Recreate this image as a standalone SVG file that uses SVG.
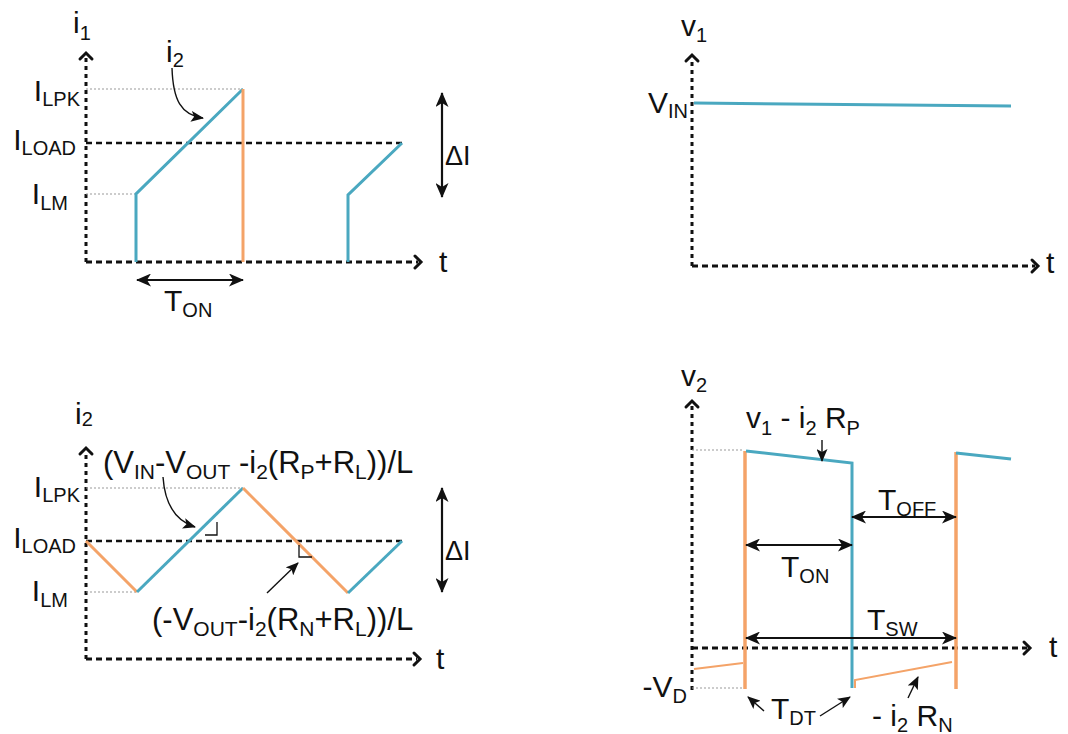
<svg xmlns="http://www.w3.org/2000/svg" width="1068" height="734" viewBox="0 0 1068 734">
<style>
text{font-family:"Liberation Sans",Arial,sans-serif;fill:#111;}
.m{font-size:30px;}
.s{font-size:20px;}
.f{font-size:31px;}
.fs{font-size:21px;}
.d{font-size:27px;}
.axv{fill:none;stroke:#111;stroke-width:3;stroke-dasharray:4 4;}
.axh{fill:none;stroke:#111;stroke-width:3;stroke-dasharray:6 4;}
.chev{fill:none;stroke:#111;stroke-width:3;stroke-linecap:round;stroke-linejoin:miter;}
.load{fill:none;stroke:#111;stroke-width:2.5;stroke-dasharray:6 4;}
.gray{fill:none;stroke:#999;stroke-width:1.2;stroke-dasharray:2 2;}
.blue{fill:none;stroke:#4AA8C0;stroke-width:3;stroke-linejoin:miter;}
.orange{fill:none;stroke:#F4A368;stroke-width:3;stroke-linejoin:miter;}
.orangeT{fill:none;stroke:#F4A368;stroke-width:2;}
.dbl{fill:none;stroke:#111;stroke-width:2.2;marker-start:url(#ah);marker-end:url(#ah);}
.ptr{fill:none;stroke:#111;stroke-width:1.4;marker-end:url(#ah2);}
.ra{fill:none;stroke:#111;stroke-width:1.3;}
</style>
<defs>
<marker id="ah" viewBox="0 0 15 13" refX="14" refY="6.5" markerWidth="15" markerHeight="13" markerUnits="userSpaceOnUse" orient="auto-start-reverse"><path d="M0,0 L15,6.5 L0,13 L4,6.5 z" fill="#111"/></marker>
<marker id="ah2" viewBox="0 0 13 11" refX="12" refY="5.5" markerWidth="13" markerHeight="11" markerUnits="userSpaceOnUse" orient="auto"><path d="M0,0 L13,5.5 L0,11 L3,5.5 z" fill="#111"/></marker>
</defs>
<rect width="1068" height="734" fill="#fff"/>

<g id="panel-i1">
<path class="axv" d="M86,262 V56"/>
<polyline class="chev" points="80,59 86,53 92,59"/>
<path class="axh" d="M86,262 H418"/>
<polyline class="chev" points="415,256 421,262 415,268"/>
<path class="gray" d="M86,89 H243"/>
<path class="gray" d="M86,194 H136"/>
<path class="load" d="M86,143 H403"/>
<polyline class="blue" points="136,262 136,194 243,89"/>
<path class="orange" d="M243,89 V262"/>
<polyline class="blue" points="348,262 348,195 402,143"/>
<text x="73" y="33"><tspan class="m">i</tspan><tspan class="s" dy="7">1</tspan></text>
<text x="166" y="62"><tspan class="m">i</tspan><tspan class="s" dy="5">2</tspan></text>
<text x="80" y="101" text-anchor="end"><tspan class="m">I</tspan><tspan class="s" dy="5">LPK</tspan></text>
<text x="76" y="150" text-anchor="end"><tspan class="m">I</tspan><tspan class="s" dy="5">LOAD</tspan></text>
<text x="68" y="204" text-anchor="end"><tspan class="m">I</tspan><tspan class="s" dy="6">LM</tspan></text>
<text x="439" y="272" class="m">t</text>
<text x="445" y="165" class="d">ΔI</text>
<text x="164" y="311"><tspan class="m">T</tspan><tspan class="s" dy="6">ON</tspan></text>
</g>

<g id="panel-v1">
<path class="axv" d="M692,266 V58"/>
<polyline class="chev" points="686,61 692,55 698,61"/>
<path class="axh" d="M692,266 H1035"/>
<polyline class="chev" points="1032,260 1038,266 1032,272"/>
<polyline class="blue" points="694,103 1011,106"/>
<text x="681" y="36"><tspan class="m">v</tspan><tspan class="s" dy="6">1</tspan></text>
<text x="688" y="113" text-anchor="end"><tspan class="m">V</tspan><tspan class="s" dy="5">IN</tspan></text>
<text x="1046" y="273" class="m">t</text>
</g>

<g id="panel-i2">
<path class="axv" d="M86,659 V451"/>
<polyline class="chev" points="80,454 86,448 92,454"/>
<path class="axh" d="M86,659 H417"/>
<polyline class="chev" points="414,653 420,659 414,665"/>
<path class="gray" d="M86,488 H243"/>
<path class="gray" d="M86,592 H137"/>
<path class="load" d="M86,541 H403"/>
<polyline class="orange" points="86,541 137,592"/>
<polyline class="blue" points="137,592 243,488"/>
<polyline class="orange" points="243,488 348,593"/>
<polyline class="blue" points="348,593 402,541"/>
<path class="ra" d="M205,535 H217 V522"/>
<path class="ra" d="M299,545 V557 H312"/>
<text x="75" y="424"><tspan class="m">i</tspan><tspan class="s" dy="2">2</tspan></text>
<text x="80" y="497" text-anchor="end"><tspan class="m">I</tspan><tspan class="s" dy="5">LPK</tspan></text>
<text x="76" y="548" text-anchor="end"><tspan class="m">I</tspan><tspan class="s" dy="5">LOAD</tspan></text>
<text x="68" y="601" text-anchor="end"><tspan class="m">I</tspan><tspan class="s" dy="6">LM</tspan></text>
<text x="436" y="669" class="m">t</text>
<text x="445" y="560" class="d">ΔI</text>
<text x="103" y="473" class="f">(V<tspan class="fs" dy="6">IN</tspan><tspan dy="-6">-V</tspan><tspan class="fs" dy="6">OUT</tspan><tspan dy="-6"> -i</tspan><tspan class="fs" dy="6">2</tspan><tspan dy="-6">(R</tspan><tspan class="fs" dy="6">P</tspan><tspan dy="-6">+R</tspan><tspan class="fs" dy="6">L</tspan><tspan dy="-6">))/L</tspan></text>
<text x="152" y="630" class="f">(-V<tspan class="fs" dy="6">OUT</tspan><tspan dy="-6">-i</tspan><tspan class="fs" dy="6">2</tspan><tspan dy="-6">(R</tspan><tspan class="fs" dy="6">N</tspan><tspan dy="-6">+R</tspan><tspan class="fs" dy="6">L</tspan><tspan dy="-6">))/L</tspan></text>
</g>

<g id="panel-v2">
<path class="axv" d="M692,690 V404"/>
<polyline class="chev" points="686,407 692,401 698,407"/>
<path class="axh" d="M692,648 H1027"/>
<polyline class="chev" points="1024,642 1030,648 1024,654"/>
<path class="gray" d="M692,450 H744"/>
<path class="gray" d="M692,688 H742"/>
<polyline class="orangeT" points="694,669 743,663"/>
<path class="orange" d="M745,689 V451" style="stroke-width:3.5"/>
<polyline class="blue" points="746,451 852,463 852,688"/>
<polyline class="orangeT" points="855,688 855,680 952,662"/>
<path class="orange" d="M956,689 V452" style="stroke-width:3.5"/>
<polyline class="blue" points="956,453 1011,459"/>
<text x="681" y="386"><tspan class="m">v</tspan><tspan class="s" dy="6">2</tspan></text>
<text x="746" y="428"><tspan class="m">v</tspan><tspan class="s" dy="7">1</tspan><tspan class="m" dy="-7"> - i</tspan><tspan class="s" dy="7">2</tspan><tspan class="m" dy="-7"> R</tspan><tspan class="s" dy="7">P</tspan></text>
<text x="878" y="510"><tspan class="m">T</tspan><tspan class="s" dy="6">OFF</tspan></text>
<text x="781" y="577"><tspan class="m">T</tspan><tspan class="s" dy="6">ON</tspan></text>
<text x="867" y="630"><tspan class="m">T</tspan><tspan class="s" dy="6">SW</tspan></text>
<text x="687" y="697" text-anchor="end"><tspan class="m">-V</tspan><tspan class="s" dy="6">D</tspan></text>
<text x="771" y="719"><tspan class="m">T</tspan><tspan class="s" dy="6">DT</tspan></text>
<text x="872" y="726"><tspan class="m">- i</tspan><tspan class="s" dy="6">2</tspan><tspan class="m" dy="-6"> R</tspan><tspan class="s" dy="6">N</tspan></text>
<text x="1049" y="657" class="m">t</text>
</g>

<g id="connectors">
<path class="dbl" d="M442,93 V197"/>
<path class="dbl" d="M137,280 H243"/>
<path class="ptr" d="M172,68 C173,100 181,115 203,118"/>
<path class="dbl" d="M442,488 V592"/>
<path class="ptr" d="M163,477 C165,506 176,521 195,527"/>
<path class="ptr" d="M267,593 L298,563"/>
<path class="dbl" d="M852,517 H956"/>
<path class="dbl" d="M746,545 H852"/>
<path class="dbl" d="M746,638 H956"/>
<path class="ptr" d="M822,440 V461"/>
<path class="ptr" d="M764,711 L748,697"/>
<path class="ptr" d="M820,716 L850,697"/>
<path class="ptr" d="M908,698 L918,677"/>
</g>
</svg>
